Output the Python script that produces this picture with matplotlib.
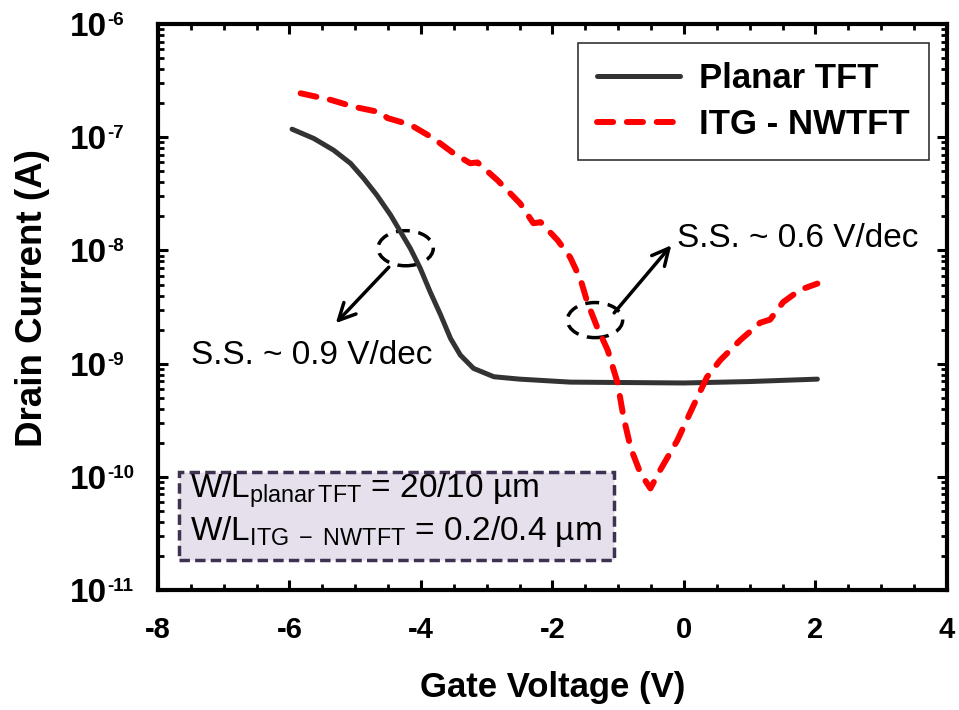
import numpy as np
import matplotlib
matplotlib.use("Agg")
import matplotlib.pyplot as plt
from matplotlib.patches import Ellipse, Rectangle
from matplotlib.ticker import LogLocator, MultipleLocator, FixedLocator, NullFormatter

plt.rcParams['font.family'] = ['Liberation Sans', 'DejaVu Sans']
plt.rcParams['mathtext.fontset'] = 'custom'
plt.rcParams['mathtext.rm'] = 'Liberation Sans'
plt.rcParams['mathtext.bf'] = 'Liberation Sans:bold'
plt.rcParams['mathtext.it'] = 'Liberation Sans:italic'

# planar TFT transfer curve
vg_planar = [-5.96, -5.63, -5.33, -5.07, -4.87, -4.67, -4.46, -4.31, -4.16, -4.01,
             -3.86, -3.70, -3.55, -3.40, -3.20, -2.89, -2.50, -1.73, 0.0, 1.0, 2.03]
id_planar = [1.18e-7, 9.77e-8, 7.71e-8, 5.88e-8, 4.33e-8, 3.08e-8, 2.05e-8, 1.46e-8, 1.04e-8, 6.95e-9,
             4.31e-9, 2.69e-9, 1.67e-9, 1.19e-9, 9.08e-10, 7.66e-10, 7.3e-10, 6.87e-10, 6.75e-10,
             6.95e-10, 7.3e-10]

# ITG - NWTFT transfer curve
vg_itg = [-5.83, -5.37, -5.02, -4.61, -4.51, -4.16, -3.81, -3.50, -3.25, -3.14,
          -2.84, -2.49, -2.29, -2.18, -1.92, -1.73, -1.57, -1.47, -1.32, -1.16,
          -1.01, -0.92, -0.81, -0.66, -0.51, -0.36, -0.10, 0.14, 0.35, 0.55,
          0.86, 1.16, 1.31, 1.51, 1.77, 2.03]
id_itg = [2.45e-7, 2.14e-7, 1.86e-7, 1.66e-7, 1.48e-7, 1.29e-7, 9.8e-8, 7.2e-8, 5.9e-8, 6.0e-8,
          4.2e-8, 2.6e-8, 1.74e-8, 1.78e-8, 1.23e-8, 8.7e-9, 5.5e-9, 3.5e-9, 2.1e-9, 1.32e-9,
          6.8e-10, 3.4e-10, 1.8e-10, 1.07e-10, 7.9e-11, 1.15e-10, 2.1e-10, 4.2e-10, 7.6e-10, 1.07e-9,
          1.62e-9, 2.3e-9, 2.45e-9, 3.5e-9, 4.5e-9, 5.1e-9]

xticks = [-8, -6, -4, -2, 0, 2, 4]
yticks = [1e-11, 1e-10, 1e-9, 1e-8, 1e-7, 1e-6]
ytick_exps = ['-11', '-10', '-9', '-8', '-7', '-6']

fig = plt.figure(figsize=(9.59, 7.10), dpi=100)
ax = fig.add_axes([0.1647, 0.169, 0.8227, 0.797])

ax.plot(vg_planar, id_planar, color='#333333', lw=3.6, solid_capstyle='round',
        solid_joinstyle='round', label='Planar TFT')
ax.plot(vg_itg, id_itg, color='#FF0000', lw=4.3, linestyle=(0, (2.7, 2.3)),
        dash_capstyle='round', label='ITG - NWTFT')

ax.set_yscale('log')
ax.set_xlim(-8, 4)
ax.set_ylim(1e-11, 1e-6)

ax.xaxis.set_major_locator(FixedLocator(xticks))
ax.xaxis.set_minor_locator(MultipleLocator(0.5))
ax.set_xticklabels([str(v) for v in xticks], fontsize=21, fontweight='bold')
ax.yaxis.set_major_locator(FixedLocator(yticks))
ax.yaxis.set_minor_locator(LogLocator(base=10, subs=np.arange(2, 10)))
ax.yaxis.set_minor_formatter(NullFormatter())
ax.set_yticklabels([''] * len(yticks))

# y tick labels as "10" + raised exponent, left aligned like the original
for val, e in zip(yticks, ytick_exps):
    ax.annotate('10', xy=(0, val), xycoords=('axes fraction', 'data'),
                xytext=(-63.4, -8.6), textcoords='offset points',
                ha='left', va='baseline', fontsize=24, fontweight='bold')
    ax.annotate(e, xy=(0, val), xycoords=('axes fraction', 'data'),
                xytext=(-36.7, -0.7), textcoords='offset points',
                ha='left', va='baseline', fontsize=13.5, fontweight='bold')

for s in ax.spines.values():
    s.set_linewidth(3)
ax.tick_params(which='both', direction='in', top=True, right=True)
ax.tick_params(which='major', length=7, width=2.2)
ax.tick_params(which='minor', length=4, width=2)
ax.tick_params(axis='x', which='major', pad=19)

ax.set_xlabel('Gate Voltage (V)', fontsize=25, fontweight='bold')
ax.xaxis.set_label_coords(0.5, -0.143)
ax.set_ylabel('Drain Current (A)', fontsize=26.5, fontweight='bold')
ax.yaxis.set_label_coords(-0.137, 0.516)

leg = ax.legend(loc='upper right', bbox_to_anchor=(0.977, 0.966), frameon=True,
                fancybox=False, prop={'size': 25, 'weight': 'bold'},
                handlelength=2.4, handletextpad=0.55, borderpad=0.55,
                labelspacing=0.36, borderaxespad=0)
leg.get_frame().set_edgecolor('black')
leg.get_frame().set_linewidth(1.2)

# dashed ellipses marking the S.S. regions
for cx, cy in [(0.314, 0.604), (0.554, 0.477)]:
    ax.add_patch(Ellipse((cx, cy), 0.07, 0.062, transform=ax.transAxes, fill=False,
                         ec='black', lw=2.5, linestyle=(0, (4, 2.5))))

ax.annotate('', xy=(0.223, 0.468), xytext=(0.295, 0.574), xycoords='axes fraction',
            arrowprops=dict(arrowstyle='->', lw=2.5, color='black', mutation_scale=30))
ax.annotate('', xy=(0.653, 0.613), xytext=(0.576, 0.486), xycoords='axes fraction',
            arrowprops=dict(arrowstyle='->', lw=2.5, color='black', mutation_scale=30))

ax.text(0.042, 0.415, 'S.S. ~ 0.9 V/dec', transform=ax.transAxes, fontsize=24,
        va='center', ha='left')
ax.text(0.658, 0.622, 'S.S. ~ 0.6 V/dec', transform=ax.transAxes, fontsize=24,
        va='center', ha='left')

# W/L box
ax.add_patch(Rectangle((0.0266, 0.053), 0.551, 0.155, transform=ax.transAxes,
                       fc='#E6E0EC', ec='#3F3151', lw=2.5, linestyle=(0, (3, 1.5)),
                       zorder=3))
ax.text(0.04, 0.163, r'W/L$_{\mathrm{planar\,TFT}}$ = 20/10 µm', transform=ax.transAxes,
        fontsize=24, va='baseline', ha='left', zorder=4)
ax.text(0.04, 0.088, r'W/L$_{\mathrm{ITG\ -\ NWTFT}}$ = 0.2/0.4 µm', transform=ax.transAxes,
        fontsize=24, va='baseline', ha='left', zorder=4)

fig.savefig('out.png', dpi=100)
